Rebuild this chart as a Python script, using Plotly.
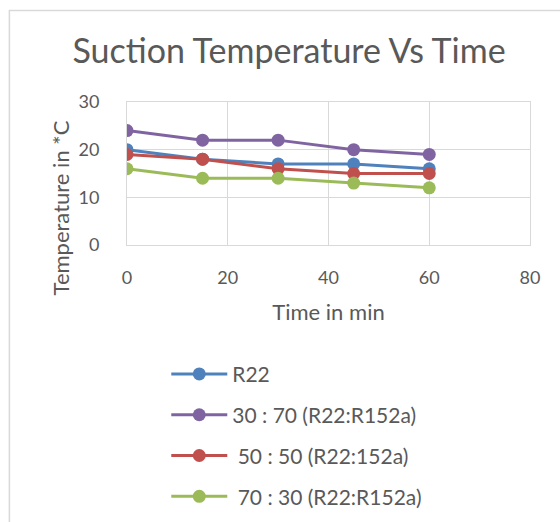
import plotly.graph_objects as go

time_min = [0, 15, 30, 45, 60]
r22 = [20, 18, 17, 17, 16]
mix_30_70 = [24, 22, 22, 20, 19]
mix_50_50 = [19, 18, 16, 15, 15]
mix_70_30 = [16, 14, 14, 13, 12]

series_names = ["R22", "30 : 70 (R22:R152a)", " 50 : 50 (R22:152a)", " 70 : 30 (R22:R152a)"]
series_vals = [r22, mix_30_70, mix_50_50, mix_70_30]
colors = ["#4F81BD", "#8064A2", "#C0504D", "#9BBB59"]

x_ticks = [0, 20, 40, 60, 80]
y_ticks = [0, 10, 20, 30]

fig = go.Figure()
for i, (name, vals, c) in enumerate(zip(series_names, series_vals, colors)):
    fig.add_trace(go.Scatter(
        x=time_min, y=vals, name=name, mode="lines+markers",
        line=dict(color=c, width=3),
        marker=dict(color=c, size=13),
        legendgroup=f"g{i}",
    ))

W, H = 560, 522
L, R, T, B = 126.7, 530, 101.7, 245
pw, ph = R - L, B - T

def px(xp):
    return (xp - L) / pw

def py(yp):
    return (B - yp) / ph

font_fam = "Lato, Open Sans, sans-serif"
grey = "#595959"
gridc = "#D9D9D9"

fig.update_layout(
    width=W, height=H,
    margin=dict(l=L, r=W - R, t=T, b=H - B, pad=0, autoexpand=False),
    paper_bgcolor="white", plot_bgcolor="white",
    font=dict(family=font_fam, color=grey, size=18),
    title=dict(text="Suction Temperature Vs Time", x=289 / W, xanchor="center",
               y=1 - 51 / H, yanchor="middle",
               font=dict(size=34, color=grey, family=font_fam)),
    xaxis=dict(range=[0, 80], tickvals=x_ticks, showgrid=True, gridcolor=gridc,
               gridwidth=1, zeroline=False, showline=True, mirror=True, linecolor=gridc,
               linewidth=1, ticks="", ticklabelstandoff=16, tickfont=dict(size=18, color=grey),
               automargin=False,
               title=dict(text="Time in min", font=dict(size=22, color=grey), standoff=18)),
    yaxis=dict(range=[0, 30], tickvals=y_ticks, showgrid=True, gridcolor=gridc,
               gridwidth=1, zeroline=False, showline=True, mirror=True, linecolor=gridc,
               linewidth=1, ticks="", ticklabelstandoff=23, tickfont=dict(size=18, color=grey),
               automargin=False),
    annotations=[dict(text="Temperature in *C", xref="paper", yref="paper",
                      x=px(60), y=py(208), xanchor="center", yanchor="middle",
                      textangle=-90, showarrow=False,
                      font=dict(size=22, color=grey, family=font_fam))],
    legend=dict(x=px(166), y=py(354), xanchor="left", yanchor="top",
                orientation="v", tracegroupgap=10.5, itemwidth=56,
                font=dict(size=21, color=grey), bgcolor="rgba(0,0,0,0)"),
    shapes=[dict(type="rect", xref="paper", yref="paper",
                 x0=px(9), x1=px(575), y0=py(540), y1=py(10),
                 line=dict(color=gridc, width=1.5), fillcolor="rgba(0,0,0,0)",
                 layer="below")],
)

fig.write_html("out.html")
